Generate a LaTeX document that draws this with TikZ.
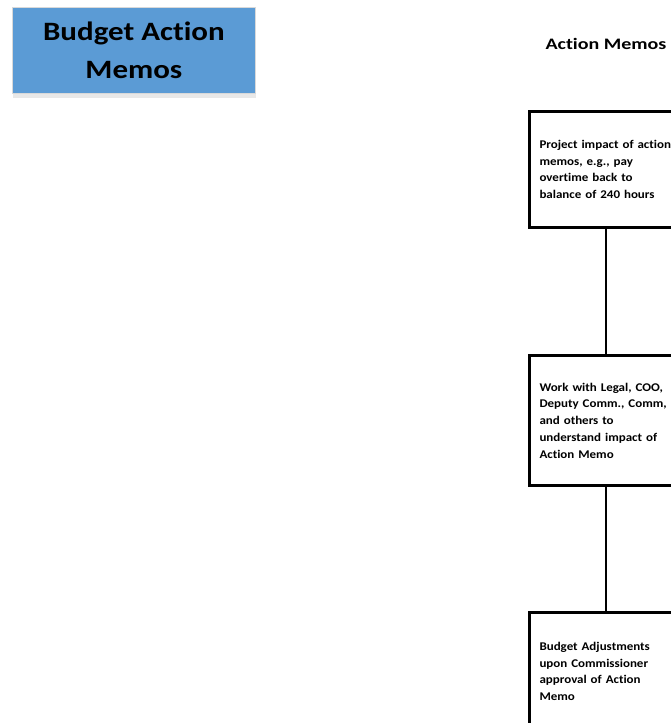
\documentclass[tikz,border=0pt]{standalone}
\usepackage{fontspec}
\setmainfont{Carlito}[Ligatures=NoCommon]
\newfontfamily\titlefont{Carlito}[FakeStretch=1.17, Ligatures=NoCommon]
\newfontfamily\hdrfont{Carlito}[FakeStretch=1.25, Ligatures=NoCommon]
\newfontfamily\boxfont{Carlito}[FakeStretch=1.1, Ligatures=NoCommon, WordSpace=0.8]
\definecolor{titleblue}{HTML}{5B9BD5}
\definecolor{shadowgray}{HTML}{D9D9D9}
\tikzset{
  x=1pt,y=1pt,
  stepbox/.style={draw=black, line width=3pt, rectangle, fill=white,
    minimum width=172, inner xsep=10pt, text width=160pt, align=left,
    font=\boxfont\bfseries\fontsize{11.8}{16.7}\selectfont, anchor=north west},
  conn/.style={draw=black, line width=1.3pt},
}
\begin{document}
\begin{tikzpicture}
\useasboundingbox (0,0) rectangle (671,-723);
\clip (0,0) rectangle (671,-723);
% title box with shadow
\fill[shadowgray!60] (13,-92) rectangle (256,-98);
\node[draw=shadowgray, line width=0.8pt, fill=titleblue, minimum width=243, minimum height=86,
  anchor=north west, align=center, inner sep=0pt,
  font=\titlefont\bfseries\fontsize{26.5}{38}\selectfont] (title) at (12,-7) {Budget Action\\Memos};
\node[font=\hdrfont\bfseries\fontsize{16}{18}\selectfont, anchor=center] (hdr) at (606,-44) {Action Memos};
\node[stepbox, minimum height=116] (b1) at (528,-110)
  {Project impact of action\\memos, e.g., pay\\overtime back to\\balance of 240 hours};
\node[stepbox, minimum height=130] (b2) at (528,-354)
  {Work with Legal, COO,\\Deputy Comm., Comm,\\and others to\\understand impact of\\Action Memo};
\node[stepbox, minimum height=118] (b3) at (528,-611)
  {Budget Adjustments\\upon Commissioner\\approval of Action\\Memo};
\draw[conn] (b1.south -| 606,0) -- (b2.north -| 606,0);
\draw[conn] (b2.south -| 606,0) -- (b3.north -| 606,0);
\end{tikzpicture}
\end{document}
